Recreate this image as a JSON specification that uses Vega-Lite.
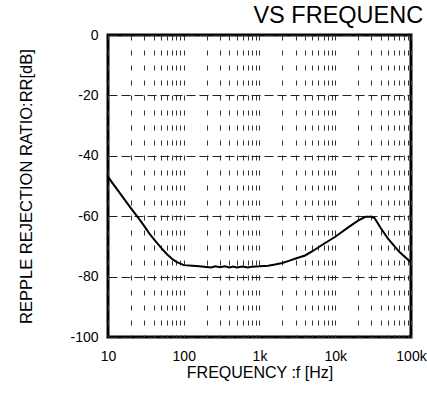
{
  "$schema": "https://vega.github.io/schema/vega-lite/v6.json",
  "width": 303,
  "height": 302,
  "autosize": {"type": "none"},
  "padding": {"left": 108, "top": 35, "right": 16, "bottom": 71},
  "background": "white",
  "config": {
    "font": "Liberation Sans",
    "view": {"stroke": "black", "strokeWidth": 3}
  },
  "title": {
    "text": "VS FREQUENC",
    "anchor": "end",
    "fontSize": 23.5,
    "fontWeight": "normal",
    "font": "Liberation Sans",
    "color": "black",
    "dx": -3,
    "dy": 21,
    "baseline": "alphabetic",
    "offset": 3
  },
  "data": {
    "values": [
      {"f": 10, "rr": -47},
      {"f": 12, "rr": -49.7},
      {"f": 15, "rr": -53},
      {"f": 20, "rr": -57.3},
      {"f": 25, "rr": -60.5},
      {"f": 30, "rr": -63.2},
      {"f": 35, "rr": -65.7},
      {"f": 40, "rr": -67.5},
      {"f": 50, "rr": -70.4},
      {"f": 60, "rr": -72.6},
      {"f": 70, "rr": -74.1},
      {"f": 80, "rr": -75.1},
      {"f": 100, "rr": -76.2},
      {"f": 130, "rr": -76.4},
      {"f": 160, "rr": -76.6},
      {"f": 200, "rr": -76.8},
      {"f": 230, "rr": -77},
      {"f": 260, "rr": -76.6},
      {"f": 300, "rr": -76.9},
      {"f": 350, "rr": -76.6},
      {"f": 400, "rr": -77},
      {"f": 450, "rr": -76.7},
      {"f": 500, "rr": -77},
      {"f": 600, "rr": -76.7},
      {"f": 700, "rr": -77},
      {"f": 800, "rr": -76.7},
      {"f": 1000, "rr": -76.6},
      {"f": 1300, "rr": -76.4},
      {"f": 1600, "rr": -76},
      {"f": 2000, "rr": -75.5},
      {"f": 2500, "rr": -74.7},
      {"f": 3000, "rr": -74},
      {"f": 4000, "rr": -73},
      {"f": 5000, "rr": -71.6},
      {"f": 7000, "rr": -69.2},
      {"f": 10000, "rr": -66.8},
      {"f": 15000, "rr": -63.6},
      {"f": 20000, "rr": -61.5},
      {"f": 25000, "rr": -60.2},
      {"f": 30000, "rr": -60.2},
      {"f": 33000, "rr": -60.6},
      {"f": 40000, "rr": -64},
      {"f": 50000, "rr": -67.5},
      {"f": 70000, "rr": -71.8},
      {"f": 100000, "rr": -75.3}
    ]
  },
  "mark": {"type": "line", "color": "black", "strokeWidth": 2, "clip": true},
  "encoding": {
    "x": {
      "field": "f",
      "type": "quantitative",
      "scale": {"type": "log", "domain": [10, 100000], "nice": false},
      "axis": {
        "title": "FREQUENCY :f [Hz]",
        "values": [10, 20, 30, 40, 50, 60, 70, 80, 90, 100, 200, 300, 400, 500, 600, 700, 800, 900, 1000, 2000, 3000, 4000, 5000, 6000, 7000, 8000, 9000, 10000, 20000, 30000, 40000, 50000, 60000, 70000, 80000, 90000, 100000],
        "labelExpr": "datum.value == 10 ? '10' : datum.value == 100 ? '100' : datum.value == 1000 ? '1k' : datum.value == 10000 ? '10k' : datum.value == 100000 ? '100k' : ''",
        "grid": true,
        "gridDash": [5, 10],
        "gridColor": "#333333",
        "gridWidth": 1,
        "gridOpacity": 1,
        "ticks": false,
        "domain": false,
        "labelFontSize": 14,
        "labelPadding": 12,
        "labelColor": "black",
        "labelFlush": false,
        "labelOverlap": false,
        "titleFontSize": 16,
        "titleFontWeight": "normal",
        "titleColor": "black",
        "titlePadding": 1
      }
    },
    "y": {
      "field": "rr",
      "type": "quantitative",
      "scale": {"domain": [-100, 0], "nice": false, "zero": false},
      "axis": {
        "title": "REPPLE REJECTION RATIO:RR[dB]",
        "values": [-100, -80, -60, -40, -20, 0],
        "labelExpr": "'' + datum.value",
        "grid": true,
        "gridDash": [9, 4],
        "gridColor": "#222222",
        "gridWidth": 1,
        "gridOpacity": 1,
        "ticks": false,
        "domain": false,
        "labelFontSize": 14,
        "labelPadding": 10,
        "labelColor": "black",
        "labelFlush": false,
        "labelOverlap": false,
        "titleFontSize": 16.5,
        "titleFontWeight": "normal",
        "titleColor": "black",
        "titlePadding": 35
      }
    }
  }
}
